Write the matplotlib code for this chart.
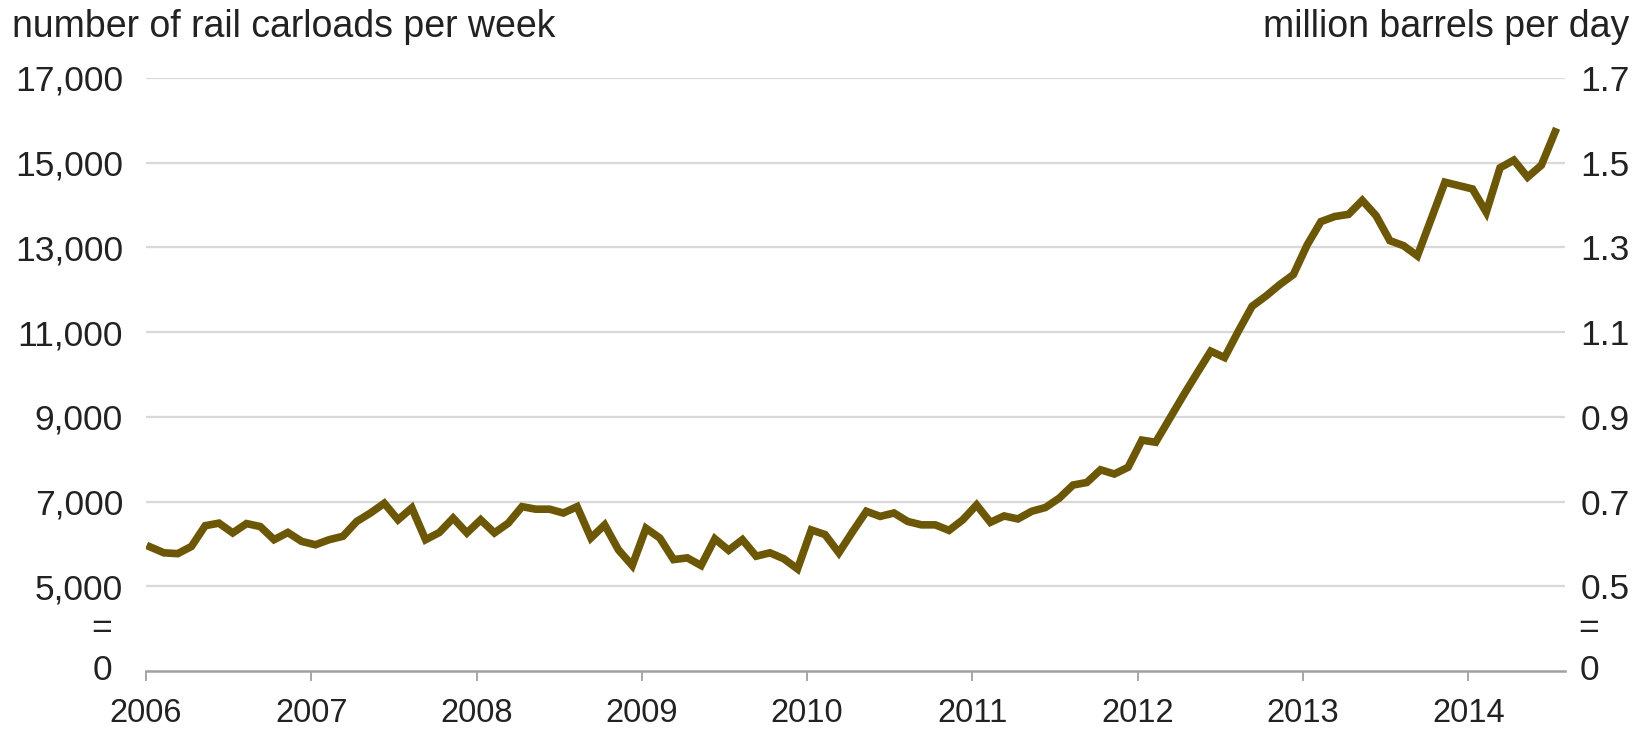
import numpy as np
import matplotlib.pyplot as plt
from matplotlib.transforms import blended_transform_factory

# rail carloads per week, monthly values Jan 2006 .. Jul 2014
start_year = 2006
carloads_2006 = [5930, 5790, 5770, 5940, 6430, 6490, 6260, 6480, 6410, 6100, 6270, 6060]
carloads_2007 = [5980, 6100, 6180, 6530, 6730, 6960, 6570, 6850, 6100, 6270, 6610, 6260]
carloads_2008 = [6570, 6260, 6490, 6880, 6820, 6820, 6730, 6880, 6140, 6450, 5860, 5490]
carloads_2009 = [6370, 6140, 5630, 5670, 5490, 6120, 5850, 6100, 5710, 5790, 5650, 5410]
carloads_2010 = [6330, 6220, 5790, 6290, 6770, 6650, 6730, 6530, 6450, 6450, 6320, 6570]
carloads_2011 = [6920, 6510, 6660, 6590, 6770, 6860, 7080, 7390, 7450, 7750, 7650, 7810]
carloads_2012 = [8450, 8400, 8950, 9500, 10030, 10550, 10400, 11020, 11610, 11850, 12120, 12360]
carloads_2013 = [13060, 13610, 13730, 13780, 14110, 13750, 13160, 13040, 12800, 13670, 14540, 14460]
carloads_2014 = [14380, 13830, 14880, 15060, 14660, 14940, 15730]

years = [2006, 2007, 2008, 2009, 2010, 2011, 2012, 2013, 2014]
left_ticks = [5000, 7000, 9000, 11000, 13000, 15000, 17000]
right_ticks = [0.5, 0.7, 0.9, 1.1, 1.3, 1.5, 1.7]

carloads = np.array(carloads_2006 + carloads_2007 + carloads_2008 + carloads_2009 +
                    carloads_2010 + carloads_2011 + carloads_2012 + carloads_2013 +
                    carloads_2014, dtype=float)
# points sit about a third of a month after the month start
t = start_year + (np.arange(len(carloads)) + 0.3) / 12.0

plt.rcParams['font.family'] = ['Liberation Sans', 'DejaVu Sans']
txt_col = '#222222'
line_col = '#6b5706'
fs_y = 25.5
fs_x = 23.5
fs_unit = 27

fig = plt.figure(figsize=(16.4, 7.33), dpi=100)
ax = fig.add_axes([0.089, 0.0846, 0.8652, 0.809])
ax2 = ax.twinx()

ax.plot(t, carloads, color=line_col, lw=5.5, solid_joinstyle='miter', zorder=3)

ax.set_xlim(2006, 2014.584)
ax.set_ylim(3000, 17000)
ax2.set_ylim(0.3, 1.7)

for y in left_ticks:
    ax.axhline(y, color='#d9d9d9', lw=1.6, zorder=1)

ax.set_yticks(left_ticks)
ax.set_yticklabels([f'{v:,}' for v in left_ticks])
ax2.set_yticks(right_ticks)
ax2.set_yticklabels([f'{v:.1f}' for v in right_ticks])
ax.set_xticks(years)
ax.set_xticklabels([str(y) for y in years])

ax.tick_params(axis='y', length=0, pad=16.5, labelsize=fs_y, labelcolor=txt_col)
ax2.tick_params(axis='y', length=0, pad=11, labelsize=fs_y, labelcolor=txt_col)
ax.tick_params(axis='x', direction='out', length=7.5, width=1.3, color='#a0a0a0',
               pad=12, labelsize=fs_x, labelcolor=txt_col)

for a in (ax, ax2):
    for s in ('top', 'right', 'left', 'bottom'):
        a.spines[s].set_visible(False)
ax.spines['bottom'].set_visible(True)
ax.spines['bottom'].set_color('#a0a0a0')
ax.spines['bottom'].set_linewidth(1.8)

# axis break marks and the zero labels
trl = blended_transform_factory(fig.transFigure, ax.transData)
for xf in (102 / 1640, 1589 / 1640):
    ax.text(xf, 3000, '0', transform=trl, ha='center', va='center',
            fontsize=fs_y, color=txt_col)
    ax.text(xf, 4000, '=', transform=trl, ha='center', va='center',
            fontsize=fs_y, color=txt_col)

fig.text(0.0076, 0.950, 'number of rail carloads per week', ha='left',
         va='baseline', fontsize=fs_unit, color=txt_col)
fig.text(0.9936, 0.950, 'million barrels per day', ha='right',
         va='baseline', fontsize=fs_unit, color=txt_col)

fig.savefig('out.png', dpi=100)
